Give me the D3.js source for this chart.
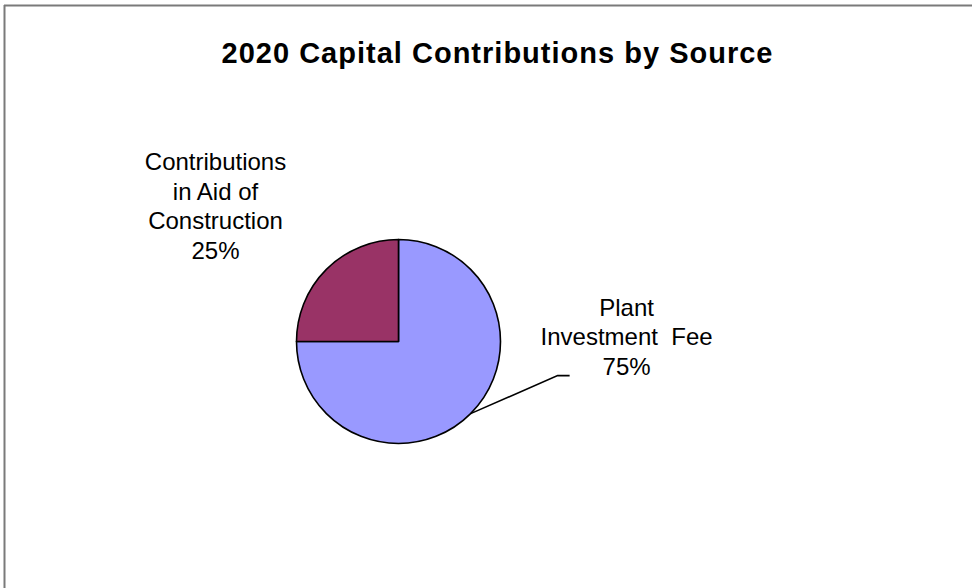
<!DOCTYPE html>
<html>
<head>
<meta charset="utf-8">
<script src="https://cdn.jsdelivr.net/npm/d3@7"></script>
<style>
  html, body { margin: 0; padding: 0; background: #fff; }
  svg { display: block; font-family: "Liberation Sans", Arial, sans-serif; }
</style>
</head>
<body>
<svg id="chart" width="972" height="588"></svg>
<script>
const title = "2020 Capital Contributions by Source";
const categories = ["Plant Investment Fee", "Contributions in Aid of Construction"];
const values = [75, 25];
const labelLines = [["Plant", "Investment  Fee", "75%"], ["Contributions", "in Aid of", "Construction", "25%"]];
const colors = ["#9999FF", "#993366"];

const svg = d3.select("#chart");
const W = 972, H = 588;

// frame (top and left edges visible)
svg.append("line").attr("x1", 4).attr("y1", 5.5).attr("x2", W).attr("y2", 5.5)
  .attr("stroke", "#7a7a7a").attr("stroke-width", 2);
svg.append("line").attr("x1", 4.5).attr("y1", 5).attr("x2", 4.5).attr("y2", H)
  .attr("stroke", "#7a7a7a").attr("stroke-width", 2);

svg.append("text")
  .attr("x", 497).attr("y", 63)
  .attr("text-anchor", "middle")
  .attr("font-size", 29).attr("font-weight", "bold")
  .attr("textLength", 551).attr("lengthAdjust", "spacing")
  .text(title);

const cx = 398.5, cy = 341.5, r = 102;
const g = svg.append("g").attr("transform", `translate(${cx},${cy})`);

const data = categories.map((c, i) => ({ name: c, value: values[i], color: colors[i], lines: labelLines[i] }));
const pie = d3.pie().value(d => d.value).sort(null);
const arcs = pie(data);
const arc = d3.arc().innerRadius(0).outerRadius(r);

g.selectAll("path.slice").data(arcs).join("path")
  .attr("class", "slice")
  .attr("d", arc)
  .attr("fill", d => d.data.color)
  .attr("stroke", "#000")
  .attr("stroke-width", 1.6)
  .attr("stroke-linejoin", "round");

// leader line for Plant Investment Fee
const a0 = arcs[0];
const mid = (a0.startAngle + a0.endAngle) / 2;
const p0 = [Math.sin(mid) * r, -Math.cos(mid) * r];
const p1 = [p0[0] + 87, p0[1] - 38];
const p2 = [p1[0] + 12, p1[1]];
g.append("path")
  .attr("d", d3.line()([p0, p1, p2]))
  .attr("fill", "none").attr("stroke", "#000").attr("stroke-width", 1.6);

const lh = 29.7;
// label for slice 0
const l0 = g.append("text").attr("text-anchor", "middle").attr("font-size", 24).attr("fill", "#000")
  .style("white-space", "pre");
arcs[0].data.lines.forEach((t, i) => {
  l0.append("tspan").attr("x", p2[0] + 57).attr("y", p2[1] - 60 + i * lh).text(t);
});
// label for slice 1
const l1 = g.append("text").attr("text-anchor", "middle").attr("font-size", 24).attr("fill", "#000");
arcs[1].data.lines.forEach((t, i) => {
  l1.append("tspan").attr("x", -183).attr("y", -r - 69.5 + i * lh).text(t);
});
</script>
</body>
</html>
